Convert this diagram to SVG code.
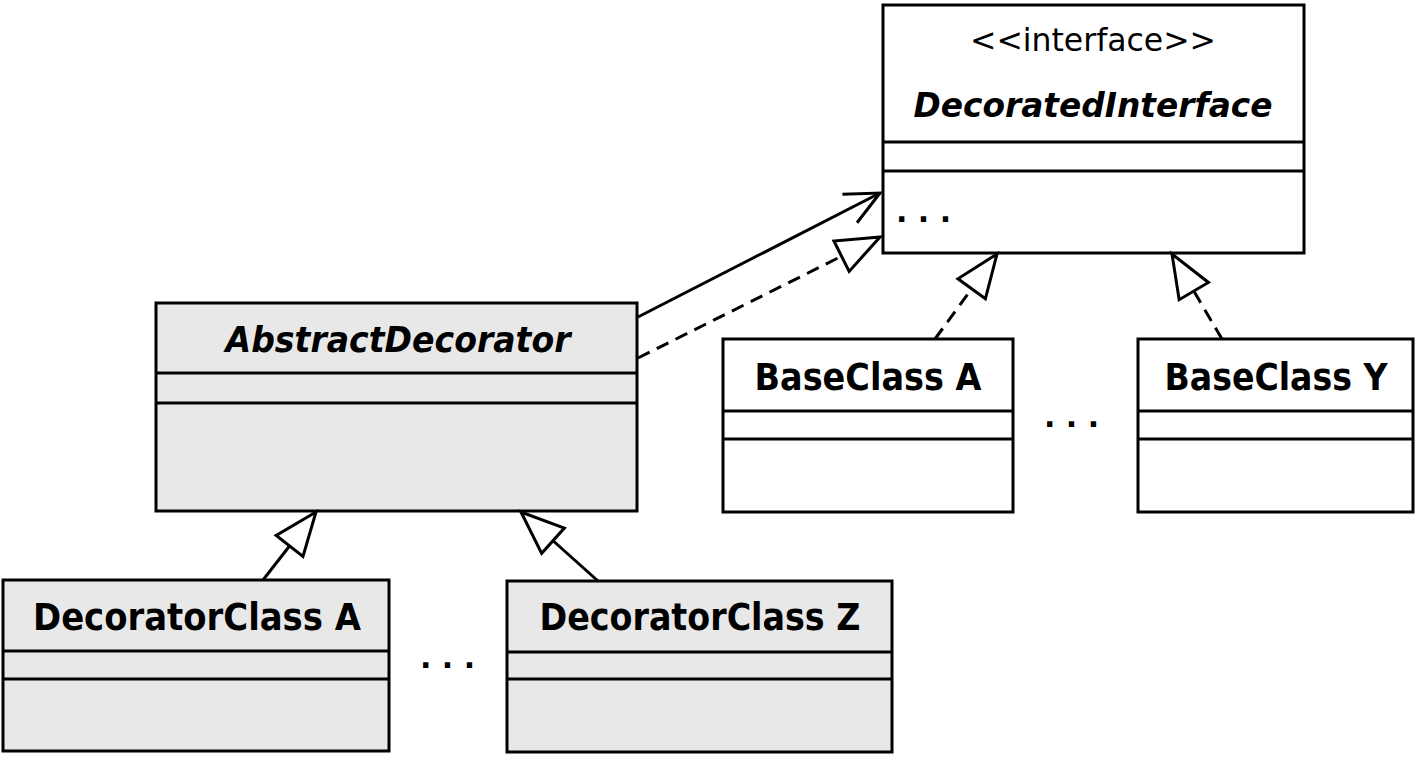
<svg xmlns="http://www.w3.org/2000/svg" width="1418" height="757" viewBox="0 0 1418 757">
<style>
.box{stroke:#000;stroke-width:3}
.plain{fill:#fff}
.gray{fill:#e8e8e8}
.sep{stroke:#000;stroke-width:3}
.t{font-family:"DejaVu Sans","Liberation Sans",sans-serif;fill:#000;text-anchor:middle}
.b{font-weight:bold;font-size:37px}
.bi{font-weight:bold;font-style:italic;font-size:34px}
.bi2{font-weight:bold;font-style:italic;font-size:36px}
.st{font-size:32px}
.dots{font-family:"DejaVu Sans","Liberation Sans",sans-serif;font-weight:bold;font-size:30px;fill:#000}
.edge{stroke:#000;stroke-width:3;fill:none}
.dash{stroke-dasharray:13 8}
</style>
<defs>
<marker id="tri" viewBox="-48 -20 52 40" refX="0" refY="0" markerWidth="52" markerHeight="40" markerUnits="userSpaceOnUse" orient="auto">
<path d="M0,0 L-43,-17 L-43,17 Z" fill="#fff" stroke="#000" stroke-width="3" stroke-dasharray="none" stroke-linejoin="miter"/>
</marker>
<marker id="open" viewBox="-40 -20 44 40" refX="0" refY="0" markerWidth="44" markerHeight="40" markerUnits="userSpaceOnUse" orient="auto">
<path d="M-34,-16 L0,0 L-34,16" fill="none" stroke="#000" stroke-width="3" stroke-dasharray="none"/>
</marker>
</defs>
<rect width="1418" height="757" fill="#fff"/>

<g id="DecoratedInterface">
<rect class="box plain" x="883" y="5" width="421" height="248"/>
<line class="sep" x1="883" y1="142" x2="1304" y2="142"/>
<line class="sep" x1="883" y1="171" x2="1304" y2="171"/>
<text class="t st" x="1093" y="51" textLength="246" lengthAdjust="spacingAndGlyphs">&lt;&lt;interface&gt;&gt;</text>
<text class="t bi" x="1093" y="117" textLength="359" lengthAdjust="spacingAndGlyphs">DecoratedInterface</text>
<text class="dots" x="896" y="222">. . .</text>
</g>

<g id="AbstractDecorator">
<rect class="box gray" x="156" y="303" width="481" height="208"/>
<line class="sep" x1="156" y1="373" x2="637" y2="373"/>
<line class="sep" x1="156" y1="403" x2="637" y2="403"/>
<text class="t bi2" x="398" y="352" textLength="345" lengthAdjust="spacingAndGlyphs">AbstractDecorator</text>
</g>

<g id="BaseClassA">
<rect class="box plain" x="723" y="339" width="290" height="173"/>
<line class="sep" x1="723" y1="411" x2="1013" y2="411"/>
<line class="sep" x1="723" y1="439" x2="1013" y2="439"/>
<text class="t b" x="868" y="390" textLength="227" lengthAdjust="spacingAndGlyphs">BaseClass A</text>
</g>

<text id="dotsBase" class="dots" x="1044" y="427">. . .</text>

<g id="BaseClassY">
<rect class="box plain" x="1138" y="339" width="275" height="173"/>
<line class="sep" x1="1138" y1="411" x2="1413" y2="411"/>
<line class="sep" x1="1138" y1="439" x2="1413" y2="439"/>
<text class="t b" x="1276" y="390" textLength="223" lengthAdjust="spacingAndGlyphs">BaseClass Y</text>
</g>

<g id="DecoratorClassA">
<rect class="box gray" x="3" y="580" width="386" height="171"/>
<line class="sep" x1="3" y1="651" x2="389" y2="651"/>
<line class="sep" x1="3" y1="679" x2="389" y2="679"/>
<text class="t b" x="197" y="630" textLength="328" lengthAdjust="spacingAndGlyphs">DecoratorClass A</text>
</g>

<text id="dotsDecorators" class="dots" x="420" y="668">. . .</text>

<g id="DecoratorClassZ">
<rect class="box gray" x="507" y="581" width="385" height="171"/>
<line class="sep" x1="507" y1="652" x2="892" y2="652"/>
<line class="sep" x1="507" y1="679" x2="892" y2="679"/>
<text class="t b" x="700" y="630" textLength="321" lengthAdjust="spacingAndGlyphs">DecoratorClass Z</text>
</g>

<g id="connectors">
<line class="edge" x1="638" y1="317" x2="880" y2="193" marker-end="url(#open)"/>
<line class="edge dash" x1="638" y1="358" x2="880" y2="237" marker-end="url(#tri)"/>
<line class="edge dash" x1="935" y1="339" x2="997" y2="254" marker-end="url(#tri)"/>
<line class="edge dash" x1="1222" y1="339" x2="1172" y2="254" marker-end="url(#tri)"/>
<line class="edge" x1="263" y1="580" x2="316" y2="512" marker-end="url(#tri)"/>
<line class="edge" x1="598" y1="581" x2="521" y2="512" marker-end="url(#tri)"/>
</g>
</svg>
